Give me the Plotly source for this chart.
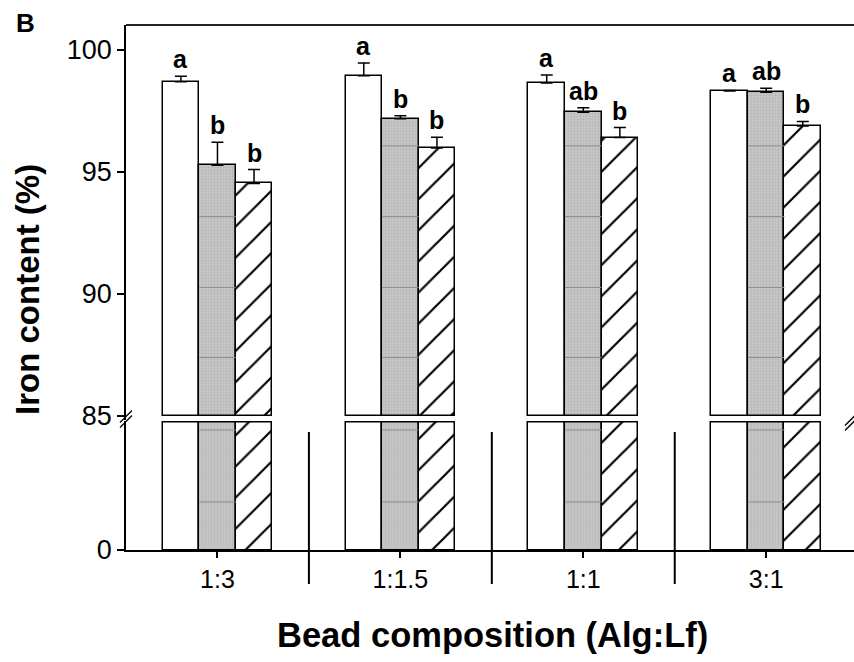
import plotly.graph_objects as go

# ---- data -------------------------------------------------------------
categories = ["1:3", "1:1.5", "1:1", "3:1"]

white_vals = [98.70, 98.94, 98.64, 98.32]
white_err = [0.22, 0.52, 0.33, 0.02]
white_sig = ["a", "a", "a", "a"]

gray_vals = [95.27, 97.18, 97.45, 98.27]
gray_err = [0.95, 0.12, 0.18, 0.16]
gray_sig = ["b", "b", "ab", "ab"]

hatch_vals = [94.53, 95.98, 96.41, 96.88]
hatch_err = [0.57, 0.44, 0.41, 0.19]
hatch_sig = ["b", "b", "b", "b"]

y_ticks_upper = [85, 90, 95, 100]
y_ticks_lower = [0]
grid_upper = [98.93, 96.07, 93.17, 90.27, 87.4]
grid_lower = [79.7, 31.9]

# ---- layout constants -------------------------------------------------
BREAK = 85.0
BAR_W = 0.2
FONT = "Liberation Sans, Arial, sans-serif"
W, H = 854, 662
M_L, M_R, M_T, M_B = 126, 0, 25, 112
PLOT_W = W - M_L - M_R
PLOT_H = H - M_T - M_B


def px_to_paper(px, py):
    return (px - M_L) / PLOT_W, (H - M_B - py) / PLOT_H


series = [
    dict(name="Series 1", vals=white_vals, err=white_err, sig=white_sig, offset=-BAR_W,
         marker=dict(color="white", line=dict(color="black", width=1.5))),
    dict(name="Series 2", vals=gray_vals, err=gray_err, sig=gray_sig, offset=0.0,
         marker=dict(color="#bcbcbc", line=dict(color="black", width=1.5),
                     pattern=dict(shape=".", fgcolor="#a4a4a4", bgcolor="#c6c6c6",
                                  size=3, solidity=0.35))),
    dict(name="Series 3", vals=hatch_vals, err=hatch_err, sig=hatch_sig, offset=BAR_W,
         marker=dict(color="white", line=dict(color="black", width=1.5),
                     pattern=dict(shape="/", fgcolor="black", bgcolor="white",
                                  fgopacity=1, size=22, solidity=0.1))),
]

fig = go.Figure()
annotations = []
shapes = []

for s in series:
    xs = [i + s["offset"] for i in range(len(categories))]
    # lower segment: bars run from 0 up to the break
    fig.add_trace(go.Bar(
        x=xs, y=[min(v, BREAK) for v in s["vals"]], width=BAR_W,
        marker=s["marker"], name=s["name"], showlegend=False,
        xaxis="x", yaxis="y",
    ))
    # upper segment: bars start at the break
    fig.add_trace(go.Bar(
        x=xs, y=[v - BREAK for v in s["vals"]], base=BREAK, width=BAR_W,
        marker=s["marker"], name=s["name"], showlegend=False,
        error_y=dict(type="data", symmetric=False, array=s["err"],
                     arrayminus=[0] * len(s["err"]), color="black",
                     thickness=1.5, width=6),
        xaxis="x", yaxis="y2",
    ))
    for x, v, e, t in zip(xs, s["vals"], s["err"], s["sig"]):
        annotations.append(dict(
            x=x, y=v + e, xref="x", yref="y2", text=t, showarrow=False,
            xanchor="center", yanchor="bottom", yshift=1,
            font=dict(family=FONT, size=25, color="black", weight="bold"),
        ))

# faint grid lines visible through the gray bars
for i, v in enumerate(gray_vals):
    for g in grid_upper:
        if g < v:
            shapes.append(dict(type="line", xref="x", yref="y2",
                               x0=i - BAR_W / 2, x1=i + BAR_W / 2, y0=g, y1=g,
                               line=dict(color="#8c8c8c", width=1)))
    for g in grid_lower:
        shapes.append(dict(type="line", xref="x", yref="y",
                           x0=i - BAR_W / 2, x1=i + BAR_W / 2, y0=g, y1=g,
                           line=dict(color="#8c8c8c", width=1)))

# long separators between the categories
for i in range(len(categories) - 1):
    shapes.append(dict(type="line", xref="x", yref="paper",
                       x0=i + 0.5, x1=i + 0.5,
                       y0=px_to_paper(0, 432)[1], y1=px_to_paper(0, 584)[1],
                       line=dict(color="black", width=2)))

# top frame line
shapes.append(dict(type="line", xref="paper", yref="paper", x0=0, x1=1, y0=1, y1=1,
                   line=dict(color="#222222", width=2)))

# axis-break slashes on the left axis and at the right edge
for cx, cy in [(126, 419), (851, 422)]:
    for dy in (-2.5, 2.5):
        x0, y0 = px_to_paper(cx - 6, cy + dy + 6)
        x1, y1 = px_to_paper(cx + 6, cy + dy - 6)
        shapes.append(dict(type="line", xref="paper", yref="paper",
                           x0=x0, y0=y0, x1=x1, y1=y1,
                           line=dict(color="black", width=1.3)))

# panel letter, axis titles
annotations.append(dict(x=px_to_paper(26, 0)[0], y=px_to_paper(0, 23)[1],
                        xref="paper", yref="paper", text="B", showarrow=False,
                        xanchor="center", yanchor="middle",
                        font=dict(family=FONT, size=26, color="black", weight="bold")))
annotations.append(dict(x=px_to_paper(27, 0)[0], y=px_to_paper(0, 290)[1],
                        xref="paper", yref="paper", text="Iron content (%)",
                        textangle=-90, showarrow=False,
                        xanchor="center", yanchor="middle",
                        font=dict(family=FONT, size=33, color="black", weight="bold")))
annotations.append(dict(x=px_to_paper(492, 0)[0], y=px_to_paper(0, 635)[1],
                        xref="paper", yref="paper", text="Bead composition (Alg:Lf)",
                        showarrow=False, xanchor="center", yanchor="middle",
                        font=dict(family=FONT, size=34.5, color="black", weight="bold")))

lower_top = px_to_paper(0, 420.5)[1]
upper_bottom = px_to_paper(0, 419.7)[1]

fig.update_layout(
    width=W, height=H,
    margin=dict(l=M_L, r=M_R, t=M_T, b=M_B, pad=0),
    plot_bgcolor="white", paper_bgcolor="white",
    barmode="overlay", bargap=0,
    font=dict(family=FONT, color="black", size=24),
    xaxis=dict(range=[-0.5, 3.48], tickvals=list(range(len(categories))),
               ticktext=categories, ticks="outside", ticklen=6, tickwidth=1.5,
               tickcolor="black", showline=True, linecolor="black", linewidth=1.5,
               showgrid=False, zeroline=False, anchor="y",
               tickfont=dict(family=FONT, size=25, color="black"),
               ticklabelstandoff=0),
    yaxis=dict(domain=[0, lower_top], range=[0, 86], tickvals=y_ticks_lower,
               ticks="outside", ticklen=7, tickwidth=1.5, tickcolor="black",
               showline=True, linecolor="black", linewidth=1.5, showgrid=False,
               zeroline=False, anchor="x",
               tickfont=dict(family=FONT, size=27, color="black")),
    yaxis2=dict(domain=[upper_bottom, 1], range=[84.85, 101.02], tickvals=y_ticks_upper,
                ticks="outside", ticklen=7, tickwidth=1.5, tickcolor="black",
                showline=True, linecolor="black", linewidth=1.5, showgrid=False,
                zeroline=False, anchor="x",
                tickfont=dict(family=FONT, size=27, color="black")),
    annotations=annotations,
    shapes=shapes,
)

fig.write_html("out.html")
